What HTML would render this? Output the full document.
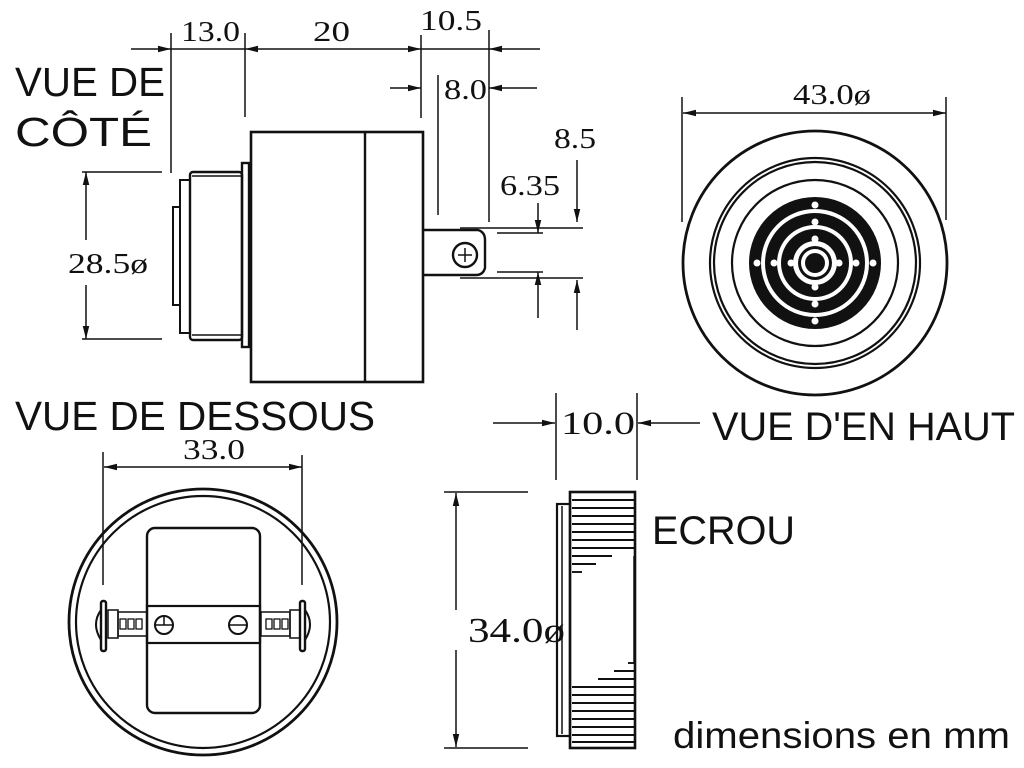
<!DOCTYPE html>
<html><head><meta charset="utf-8"><style>
html,body{margin:0;padding:0;background:#fff;}
svg{display:block}
.s{font-family:"Liberation Sans",sans-serif;fill:#111}
.d{font-family:"Liberation Serif",serif;fill:#111}
</style></head><body>
<svg width="1024" height="768" viewBox="0 0 1024 768" xmlns="http://www.w3.org/2000/svg">
<defs>
<marker id="a" viewBox="0 0 12 6" refX="12" refY="3" markerWidth="13" markerHeight="7" orient="auto" markerUnits="userSpaceOnUse"><path d="M0,0 L12,3 L0,6 Z" fill="#111"/></marker>
</defs>
<g stroke="#111" fill="none" stroke-width="1.5">
<!-- SIDE VIEW -->
<line x1="171" y1="33" x2="171" y2="173"/>
<line x1="245" y1="33" x2="245" y2="117"/>
<line x1="421" y1="35" x2="421" y2="118"/>
<line x1="489" y1="30" x2="489" y2="222"/>
<line x1="131" y1="49" x2="171" y2="49" marker-end="url(#a)"/>
<line x1="171" y1="49" x2="245" y2="49"/>
<line x1="300" y1="49" x2="245" y2="49" marker-end="url(#a)"/>
<line x1="300" y1="49" x2="421" y2="49" marker-end="url(#a)"/>
<line x1="421" y1="49" x2="489" y2="49"/>
<line x1="540" y1="49" x2="489" y2="49" marker-end="url(#a)"/>
<line x1="438" y1="75" x2="438" y2="215"/>
<line x1="390" y1="88" x2="421" y2="88" marker-end="url(#a)"/>
<line x1="537" y1="88" x2="489" y2="88" marker-end="url(#a)"/>
<rect x="251" y="132" width="172" height="250" stroke-width="2.6"/>
<line x1="365" y1="132" x2="365" y2="382" stroke-width="2.4"/>
<rect x="242" y="163" width="7" height="184" stroke-width="2.4"/>
<rect x="190" y="172" width="52" height="168" rx="3" stroke-width="2.4"/>
<line x1="192" y1="176" x2="242" y2="176"/>
<line x1="192" y1="335" x2="242" y2="335"/>
<rect x="180" y="180" width="10" height="153" stroke-width="2"/>
<rect x="173" y="207" width="7" height="98" stroke-width="2"/>
<path d="M423 230 L478 230 Q485 232 485 240 L485 268 Q483 275 476 275 L423 275" stroke-width="2.4"/>
<circle cx="465" cy="255" r="12" stroke-width="2.4"/>
<line x1="458" y1="255" x2="472" y2="255"/><line x1="465" y1="248" x2="465" y2="262"/>
<line x1="460" y1="228" x2="583" y2="228"/>
<line x1="497" y1="233" x2="543" y2="233"/>
<line x1="497" y1="272" x2="543" y2="272"/>
<line x1="460" y1="278" x2="583" y2="278"/>
<line x1="538" y1="203" x2="538" y2="233" marker-end="url(#a)"/>
<line x1="538" y1="318" x2="538" y2="272" marker-end="url(#a)"/>
<line x1="577" y1="160" x2="577" y2="222" marker-end="url(#a)"/>
<line x1="577" y1="330" x2="577" y2="280" marker-end="url(#a)"/>
<line x1="82" y1="172" x2="162" y2="172"/>
<line x1="82" y1="339" x2="162" y2="339"/>
<line x1="86" y1="240" x2="86" y2="172" marker-end="url(#a)"/>
<line x1="86" y1="285" x2="86" y2="339" marker-end="url(#a)"/>
<!-- TOP VIEW -->
<line x1="682" y1="97" x2="682" y2="222"/>
<line x1="946" y1="97" x2="946" y2="220"/>
<line x1="815" y1="113" x2="683" y2="113" marker-end="url(#a)"/>
<line x1="815" y1="113" x2="946" y2="113" marker-end="url(#a)"/>
<circle cx="815" cy="263" r="132" stroke-width="2.8"/>
<circle cx="815" cy="263" r="105" stroke-width="2.2"/>
<circle cx="815" cy="263" r="101" stroke-width="2.2"/>
<circle cx="815" cy="263" r="83" stroke-width="2.2"/>
</g>
<g>
<circle cx="815" cy="263" r="66" fill="#111"/>
<circle cx="815" cy="263" r="54" fill="#fff"/>
<circle cx="815" cy="263" r="50" fill="#111"/>
<circle cx="815" cy="263" r="38" fill="#fff"/>
<circle cx="815" cy="263" r="34" fill="#111"/>
<circle cx="815" cy="263" r="22" fill="#fff"/>
<circle cx="815" cy="263" r="17" fill="#111"/>
<circle cx="815" cy="263" r="14" fill="#fff"/>
<circle cx="815" cy="263" r="10" fill="#111"/>
<g fill="#fff">
<circle cx="815" cy="205" r="3.5"/><circle cx="815" cy="321" r="3.5"/><circle cx="757" cy="263" r="3.5"/><circle cx="873" cy="263" r="3.5"/>
<circle cx="815" cy="222" r="3.5"/><circle cx="815" cy="304" r="3.5"/><circle cx="774" cy="263" r="3.5"/><circle cx="856" cy="263" r="3.5"/>
<circle cx="815" cy="239" r="3.5"/><circle cx="815" cy="287" r="3.5"/><circle cx="791" cy="263" r="3.5"/><circle cx="839" cy="263" r="3.5"/>
</g>
</g>
<g stroke="#111" fill="none" stroke-width="1.5">
<!-- BOTTOM VIEW -->
<line x1="103" y1="452" x2="103" y2="585"/>
<line x1="302" y1="455" x2="302" y2="585"/>
<line x1="200" y1="467" x2="104" y2="467" marker-end="url(#a)"/>
<line x1="200" y1="467" x2="302" y2="467" marker-end="url(#a)"/>
<ellipse cx="203" cy="622" rx="134" ry="133" stroke-width="2.8"/>
<ellipse cx="203" cy="622" rx="127" ry="126" stroke-width="2.2"/>
<rect x="147" y="528" width="113" height="185" rx="8" stroke-width="2.4"/>
<rect x="147" y="606" width="113" height="37" stroke-width="2.2"/>
<circle cx="164" cy="625" r="9" stroke-width="2"/>
<line x1="164" y1="616" x2="164" y2="625"/><line x1="156" y1="625" x2="172" y2="625"/>
<circle cx="238" cy="625" r="9" stroke-width="2"/>
<line x1="230" y1="625" x2="246" y2="625"/>
<rect x="118" y="612" width="29" height="24"/>
<rect x="261" y="612" width="29" height="24"/>
<g stroke-width="1.3">
<rect x="120" y="619" width="6" height="10"/><rect x="128" y="619" width="6" height="10"/><rect x="136" y="619" width="6" height="10"/>
<rect x="266" y="619" width="6" height="10"/><rect x="274" y="619" width="6" height="10"/><rect x="282" y="619" width="6" height="10"/>
</g>
<rect x="108" y="610" width="10" height="28"/>
<rect x="290" y="610" width="10" height="28"/>
<rect x="101" y="601" width="5" height="50" rx="2" stroke-width="2.4"/>
<rect x="300" y="601" width="5" height="50" rx="2" stroke-width="2.4"/>
<path d="M101 610 Q91 624 101 640" stroke-width="2"/>
<path d="M305 610 Q315 624 305 640" stroke-width="2"/>
<!-- NUT -->
<line x1="556" y1="393" x2="556" y2="480"/>
<line x1="637" y1="393" x2="637" y2="480"/>
<line x1="493" y1="423" x2="555" y2="423" marker-end="url(#a)"/>
<line x1="700" y1="423" x2="638" y2="423" marker-end="url(#a)"/>
<line x1="444" y1="492" x2="528" y2="492"/>
<line x1="444" y1="748" x2="528" y2="748"/>
<line x1="456" y1="610" x2="456" y2="493" marker-end="url(#a)"/>
<line x1="456" y1="650" x2="456" y2="747" marker-end="url(#a)"/>
<rect x="570" y="492" width="65" height="256" stroke-width="2.6"/>
<rect x="557" y="504" width="13" height="232" stroke-width="2.2"/>
<line x1="562" y1="506" x2="562" y2="734"/>
<g stroke-width="1.9">
<line x1="572" y1="500" x2="634" y2="500"/><line x1="572" y1="508" x2="634" y2="508"/><line x1="572" y1="516" x2="634" y2="516"/><line x1="572" y1="524" x2="634" y2="524"/><line x1="572" y1="532" x2="634" y2="532"/><line x1="572" y1="540" x2="634" y2="540"/><line x1="572" y1="548" x2="634" y2="548"/><line x1="572" y1="556" x2="612" y2="556"/><line x1="572" y1="564" x2="596" y2="564"/><line x1="572" y1="572" x2="582" y2="572"/>
<line x1="628" y1="663" x2="634" y2="663"/><line x1="614" y1="671" x2="634" y2="671"/><line x1="598" y1="679" x2="634" y2="679"/><line x1="572" y1="687" x2="634" y2="687"/><line x1="572" y1="695" x2="634" y2="695"/><line x1="572" y1="703" x2="634" y2="703"/><line x1="572" y1="711" x2="634" y2="711"/><line x1="572" y1="719" x2="634" y2="719"/><line x1="572" y1="727" x2="634" y2="727"/><line x1="572" y1="735" x2="634" y2="735"/><line x1="572" y1="742" x2="634" y2="742"/>
</g>
<line x1="634" y1="556" x2="634" y2="663"/>
</g>
<!-- TEXT -->
<text class="s" x="15" y="96" font-size="41" textLength="150" lengthAdjust="spacingAndGlyphs">VUE DE</text>
<text class="s" x="15" y="146" font-size="41" textLength="137" lengthAdjust="spacingAndGlyphs">CÔTÉ</text>
<text class="d" x="181" y="41" font-size="29" textLength="59" lengthAdjust="spacingAndGlyphs">13.0</text>
<text class="d" x="313" y="41" font-size="29" textLength="37" lengthAdjust="spacingAndGlyphs">20</text>
<text class="d" x="420" y="30" font-size="29" textLength="62" lengthAdjust="spacingAndGlyphs">10.5</text>
<text class="d" x="444" y="99" font-size="29" textLength="43" lengthAdjust="spacingAndGlyphs">8.0</text>
<text class="d" x="554" y="148" font-size="29" textLength="42" lengthAdjust="spacingAndGlyphs">8.5</text>
<text class="d" x="500" y="195" font-size="29" textLength="60" lengthAdjust="spacingAndGlyphs">6.35</text>
<text class="d" x="68" y="273" font-size="29" textLength="80" lengthAdjust="spacingAndGlyphs">28.5ø</text>
<text class="d" x="793" y="104" font-size="29" textLength="78" lengthAdjust="spacingAndGlyphs">43.0ø</text>
<text class="s" x="15" y="430" font-size="41" textLength="360" lengthAdjust="spacingAndGlyphs">VUE DE DESSOUS</text>
<text class="d" x="183" y="459" font-size="29" textLength="62" lengthAdjust="spacingAndGlyphs">33.0</text>
<text class="d" x="561" y="434" font-size="33" textLength="74" lengthAdjust="spacingAndGlyphs">10.0</text>
<text class="s" x="712" y="440" font-size="40" textLength="303" lengthAdjust="spacingAndGlyphs">VUE D'EN HAUT</text>
<text class="s" x="652" y="544" font-size="40" textLength="143" lengthAdjust="spacingAndGlyphs">ECROU</text>
<text class="d" x="468" y="642" font-size="35" textLength="97" lengthAdjust="spacingAndGlyphs">34.0ø</text>
<text class="s" x="673" y="748" font-size="37" textLength="337" lengthAdjust="spacingAndGlyphs">dimensions en mm</text>
</svg>
</body></html>
